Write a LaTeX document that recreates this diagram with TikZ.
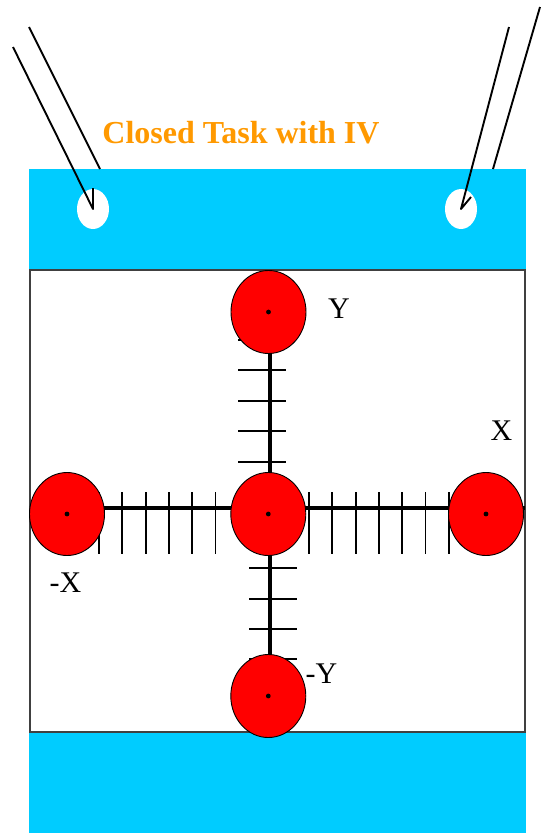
\documentclass[tikz,border=0pt]{standalone}
\usepackage{fontspec}
\setmainfont{Liberation Serif}
\usetikzlibrary{shapes.geometric}
\definecolor{padcyan}{HTML}{00CCFF}
\definecolor{titleorange}{HTML}{FF9900}
\definecolor{boxgray}{HTML}{404040}

\begin{document}
\begin{tikzpicture}[x=1pt, y=-1pt, every node/.style={font=\fontsize{30}{36}\selectfont},
	target/.style={ellipse, draw=black, fill=red, line width=0.9pt, minimum width=75pt, minimum height=83pt, inner sep=0pt},
	hole/.style={ellipse, fill=white, minimum width=32pt, minimum height=40pt, inner sep=0pt},
	wire/.style={line width=1.9pt, line join=round},
	tick/.style={line width=1.9pt},
	axis/.style={line width=4pt}]
	\useasboundingbox (0,0) rectangle (541,833);
	\fill[padcyan] (28.5,169) rectangle (525.5,833);
	\draw[boxgray, fill=white, line width=1.4pt] (30,270) rectangle (525,732);
	\node[hole] (holeL) at (93,209) {};
	\node[hole] (holeR) at (461,209) {};
	\coordinate (wireA) at (13,47);
	\coordinate (wireB) at (29,27);
	\coordinate (wireB') at (100,169);
	\coordinate (wireC) at (509,27);
	\coordinate (wireD) at (540,7);
	\coordinate (wireD') at (493,169);
	\draw[wire] (wireA) -- (holeL.center) -- ++(0,-21);
	\draw[wire] (wireB) -- (wireB');
	\draw[wire] (wireC) -- (holeR.center) -- ++(10,-12);
	\draw[wire] (wireD) -- (wireD');
	\node[font=\bfseries\fontsize{32}{38}\selectfont, text=titleorange] (title) at (241,133) {Closed Task with IV};
	\coordinate (axW) at (30,508);
	\coordinate (axE) at (525,508);
	\coordinate (axN) at (270,312);
	\coordinate (axS) at (270,696);
	\draw[axis] (axW) -- (axE);
	\draw[axis] (axN) -- (axS);
	\foreach \t in {99,122.3,...,216} \draw[tick] (\t,492) -- (\t,553.5);
	\foreach \t in {309,332.3,...,450} \draw[tick] (\t,492) -- (\t,553.5);
	\foreach \t in {340,370.4,...,462} \draw[tick] (238,\t) -- (286,\t);
	\foreach \t in {568.3,598.6,...,660} \draw[tick] (249.3,\t) -- (297.3,\t);
	\node[target] (tY) at (268.5,312) {};
	\node[target] (tO) at (268.3,514) {};
	\node[target] (tmX) at (67,514) {};
	\node[target] (tX) at (486,514) {};
	\node[target] (tmY) at (268.3,696) {};
	\foreach \n in {tY,tO,tmX,tX,tmY} \fill (\n.center) circle (2.4);
	\node (lY) at (339,309) {Y};
	\node (lX) at (501.5,431) {X};
	\node (lmX) at (65.5,582.5) {-X};
	\node (lmY) at (321.5,673.5) {-Y};
\end{tikzpicture}
\end{document}
